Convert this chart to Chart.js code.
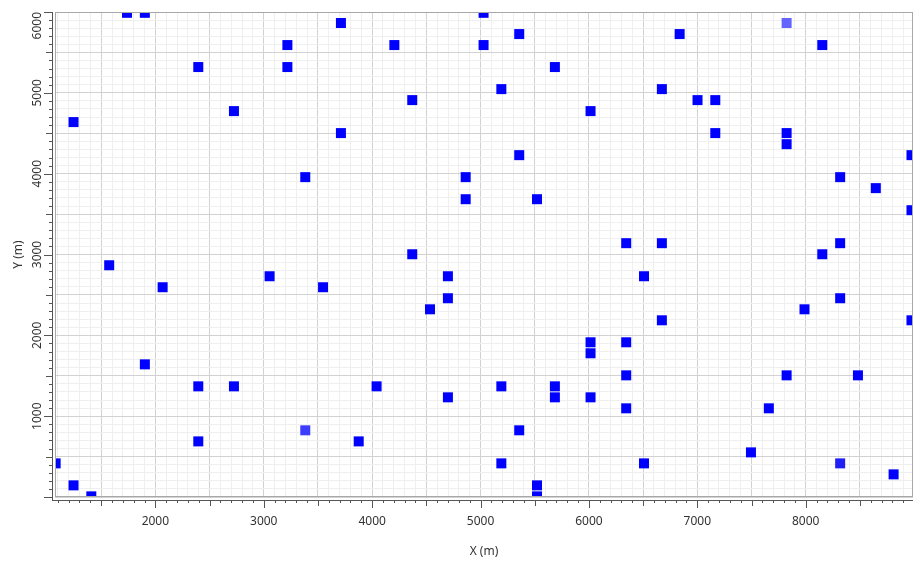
<!DOCTYPE html>
<html>
<head>
<meta charset="utf-8">
<script src="https://cdn.jsdelivr.net/npm/chart.js@4.4.1/dist/chart.umd.min.js"></script>
<style>
  html, body { margin: 0; padding: 0; background: #fff; }
  #wrap { width: 922px; height: 563px; }
</style>
</head>
<body>
<div id="wrap"><canvas id="chart" width="922" height="563"></canvas></div>
<script>
// sample positions (m)
const xValues = [
  1080, 1245, 1409, 1245, 1738, 1903, 1574, 1903, 2067, 2396,
  2396, 2396, 2725, 2725, 3054, 3218, 3218, 3383, 3547, 3712,
  3712, 3876, 4041, 4205, 4370, 4370, 4534, 4699, 4699, 4699,
  4863, 4863, 5028, 5028, 5192, 5192, 5192, 5357, 5357, 5357,
  5521, 5521, 5521, 5686, 5686, 5686, 6015, 6015, 6015, 6015,
  6344, 6344, 6344, 6344, 6508, 6508, 6673, 6673, 6673, 6837,
  7002, 7166, 7166, 7495, 7660, 7824, 7824, 7824, 7989, 8153,
  8153, 8318, 8318, 8318, 8482, 8647, 8811, 8976, 8976, 8976
];
const yValues = [
  416, 144, 8, 4638, 5990, 5990, 2867, 1641, 2595, 5319,
  1369, 688, 4774, 1369, 2731, 5591, 5319, 3957, 2595, 5864,
  4502, 688, 1369, 5591, 4910, 3003, 2322, 2731, 2459, 1233,
  3957, 3684, 5990, 5591, 5046, 1369, 416, 5727, 4229, 825,
  3684, 144, 8, 5319, 1369, 1233, 4774, 1914, 1778, 1233,
  3140, 1914, 1505, 1097, 2731, 416, 5046, 3140, 2186, 5727,
  4910, 4910, 4502, 552, 1097, 4502, 4365, 1505, 2322, 5591,
  3003, 3957, 3140, 2459, 1505, 3821, 280, 4229, 3548, 2186
];
// the few paler markers
const paleX = [3383, 7824, 8318];
const paleY = [825, 5864, 416];
const paleColors = ["#3c3cff", "#6464ff", "#2020f6"];

const xMin = 1074, xMax = 8990;
const yMin = 0, yMax = 6000;
const xTitle = "X (m)";
const yTitle = "Y (m)";

const toPoints = (xs, ys) => xs.map((x, i) => ({ x, y: ys[i] }));

Chart.defaults.font.family = '"Noto Sans", sans-serif';
Chart.defaults.font.size = 12;
Chart.defaults.color = "#333";

const gridColor = (c) => {
  const v = Math.round(c.tick ? c.tick.value : 0);
  return v % 500 === 0 ? "#d2d2d2" : "#efefef";
};

// border, offset axes, tick marks, rotated y labels
const frame = {
  id: "frame",
  afterDraw(chart) {
    const { ctx, chartArea: a, scales } = chart;
    const x = scales.x, y = scales.y;
    ctx.save();
    ctx.lineWidth = 1;
    ctx.strokeStyle = "#a8a8a8";
    ctx.strokeRect(a.left + 0.5, a.top + 0.5, a.right - a.left - 1, a.bottom - a.top - 1);

    const axX = a.left - 3, axY = a.bottom + 3;
    ctx.strokeStyle = "#555";
    ctx.beginPath();
    ctx.moveTo(axX + 0.5, a.top);
    ctx.lineTo(axX + 0.5, axY + 1);
    ctx.moveTo(axX, axY + 0.5);
    ctx.lineTo(a.right, axY + 0.5);
    x.ticks.forEach((t) => {
      const v = Math.round(t.value);
      const len = v % 1000 === 0 ? 8 : v % 500 === 0 ? 6 : 3;
      const px = Math.round(x.getPixelForValue(v)) + 0.5;
      ctx.moveTo(px, axY);
      ctx.lineTo(px, axY + len);
    });
    y.ticks.forEach((t) => {
      const v = Math.round(t.value);
      const len = v % 1000 === 0 ? 8 : v % 500 === 0 ? 6 : 3;
      const py = Math.round(y.getPixelForValue(v)) + 0.5;
      ctx.moveTo(axX, py);
      ctx.lineTo(axX - len, py);
    });
    ctx.stroke();

    ctx.fillStyle = "#333";
    ctx.font = '12px "Noto Sans", sans-serif';
    ctx.textAlign = "center";
    ctx.textBaseline = "middle";
    y.ticks.forEach((t) => {
      const v = Math.round(t.value);
      if (v % 1000 !== 0 || v === 0) return;
      const label = String(v);
      const w = ctx.measureText(label).width;
      const py = Math.max(y.getPixelForValue(v), a.top + w / 2);
      ctx.save();
      ctx.translate(38, py);
      ctx.rotate(-Math.PI / 2);
      ctx.fillText(label, 0, 0);
      ctx.restore();
    });
    ctx.restore();
  },
};

new Chart(document.getElementById("chart"), {
  type: "scatter",
  data: {
    datasets: [
      {
        data: toPoints(xValues, yValues),
        pointStyle: "rect",
        pointRadius: 7.07,
        pointBorderWidth: 0,
        pointBackgroundColor: "#0000ff",
        clip: 0,
      },
      {
        data: toPoints(paleX, paleY),
        pointStyle: "rect",
        pointRadius: 7.07,
        pointBorderWidth: 0,
        pointBackgroundColor: paleColors,
        clip: 0,
      },
    ],
  },
  options: {
    responsive: false,
    animation: false,
    events: [],
    layout: { padding: { top: 12, right: 9, bottom: 0, left: 0 } },
    plugins: { legend: { display: false }, tooltip: { enabled: false } },
    scales: {
      x: {
        type: "linear",
        min: xMin,
        max: xMax,
        border: { display: false },
        grid: { color: gridColor, drawTicks: false, lineWidth: 1 },
        ticks: {
          stepSize: 100,
          includeBounds: false,
          autoSkip: false,
          minRotation: 0,
          maxRotation: 0,
          padding: 17,
          color: "#333",
          callback: (v) => (Math.round(v) % 1000 === 0 ? String(Math.round(v)) : ""),
        },
        title: { display: true, text: xTitle, color: "#333", padding: { top: 0, bottom: 4 } },
        afterFit: (s) => { s.height = 66; },
      },
      y: {
        type: "linear",
        min: yMin,
        max: yMax,
        border: { display: false },
        grid: { color: gridColor, drawTicks: false, lineWidth: 1 },
        ticks: { stepSize: 100, includeBounds: false, display: false },
        title: { display: true, text: yTitle, color: "#333", padding: { top: 11, bottom: 0 } },
        afterFit: (s) => { s.width = 55; },
      },
    },
  },
  plugins: [frame],
});
</script>
</body>
</html>
